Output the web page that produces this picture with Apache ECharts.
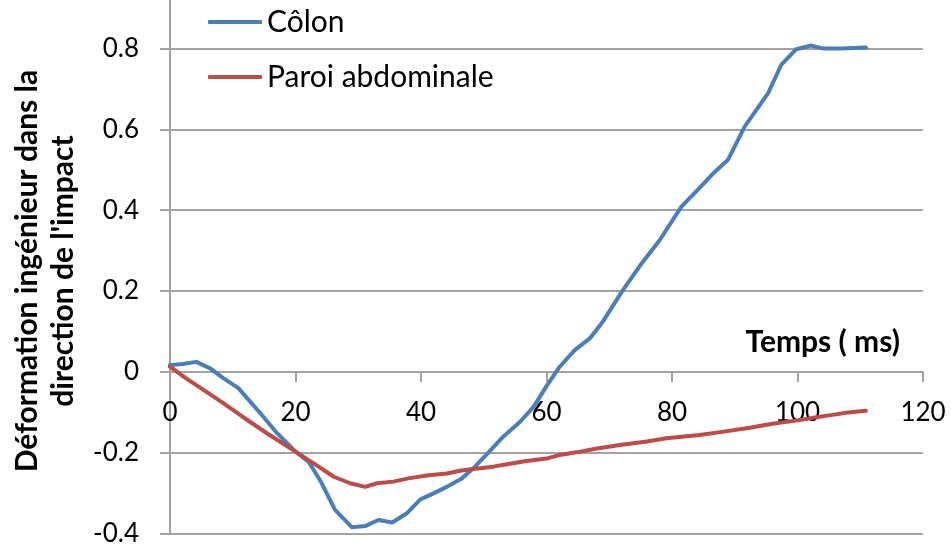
<!DOCTYPE html>
<html>
<head>
<meta charset="utf-8">
<script src="https://cdn.jsdelivr.net/npm/echarts@6/dist/echarts.min.js"></script>
<style>
  html, body { margin: 0; padding: 0; background: #fff; }
  #chart { width: 951px; height: 547px; }
</style>
</head>
<body>
<div id="chart"></div>
<script>
// Temps (ms) / déformation pour le côlon
const colonTime = [0, 2, 4.2, 6.4, 8.5, 10.9, 12.7, 14.4, 17, 20, 22.1, 24, 26.3, 29, 31.1, 33.2, 35.4, 37.7, 39.9, 42, 44.1, 46.5, 48.6, 51, 53.1, 55.8, 58, 60, 62.1, 64.5, 66.9, 69, 72.2, 75, 78, 81.5, 84.4, 86.5, 88.9, 91.6, 95.3, 97.4, 99.8, 102.2, 104, 107, 110.9];
const colonStrain = [0.017, 0.020, 0.025, 0.009, -0.015, -0.040, -0.072, -0.102, -0.150, -0.197, -0.222, -0.270, -0.341, -0.384, -0.381, -0.366, -0.372, -0.350, -0.315, -0.300, -0.284, -0.263, -0.234, -0.195, -0.160, -0.123, -0.085, -0.035, 0.013, 0.054, 0.083, 0.125, 0.203, 0.265, 0.325, 0.409, 0.455, 0.490, 0.524, 0.607, 0.689, 0.759, 0.798, 0.807, 0.800, 0.800, 0.802];

// Temps (ms) / déformation pour la paroi abdominale
const wallTime = [0, 2.5, 5.4, 8.6, 11.5, 15.5, 20, 22.9, 26.1, 28.7, 31.1, 33, 35.6, 38, 40.9, 44.1, 46.2, 48.3, 51.5, 53.7, 56.8, 60, 62.1, 65, 68, 72, 76, 79.1, 84.4, 88, 92.4, 96, 100.3, 103, 105.6, 108, 110.9];
const wallStrain = [0.013, -0.015, -0.045, -0.078, -0.110, -0.152, -0.197, -0.226, -0.259, -0.275, -0.284, -0.275, -0.271, -0.263, -0.256, -0.251, -0.244, -0.240, -0.234, -0.228, -0.220, -0.214, -0.205, -0.198, -0.189, -0.180, -0.172, -0.164, -0.156, -0.148, -0.138, -0.128, -0.119, -0.112, -0.106, -0.100, -0.096];

const seriesNames = ['Côlon', 'Paroi abdominale'];
const xTicks = [0, 20, 40, 60, 80, 100, 120];
const yTicks = [-0.4, -0.2, 0, 0.2, 0.4, 0.6, 0.8, 1.0];

const FONT = 'Lato, "Open Sans", sans-serif';
const GRID_GRAY = '#a3a3a3';

// plot area: 0 sits at y = 372 px, one 0.2 step is ~80.9 px
const PLOT = { left: 170, right: 28, top: -32.5, bottom: 13.2 };
const ZERO_FROM_BOTTOM = 547 - 372;

const pairs = (xs, ys) => xs.map((x, i) => [x, ys[i]]);

const xRange = {
  type: 'value',
  min: xTicks[0],
  max: xTicks[xTicks.length - 1],
  interval: xTicks[1] - xTicks[0]
};

const chart = echarts.init(document.getElementById('chart'), null, { renderer: 'canvas' });

chart.setOption({
  animation: false,
  backgroundColor: '#ffffff',
  grid: [
    Object.assign({ containLabel: false, outerBoundsMode: 'none' }, PLOT),
    // band whose bottom edge is the y = 0 line, carrying the time axis
    {
      left: PLOT.left, right: PLOT.right, top: 200, bottom: ZERO_FROM_BOTTOM,
      containLabel: false, outerBoundsMode: 'none'
    }
  ],
  legend: {
    orient: 'vertical',
    left: 208,
    top: 4,
    padding: 0,
    itemWidth: 54,
    itemHeight: 4,
    itemGap: 19,
    icon: 'roundRect',
    textStyle: { fontFamily: FONT, fontSize: 30, color: '#000', lineHeight: 36 },
    data: seriesNames
  },
  xAxis: [
    Object.assign({
      gridIndex: 0,
      axisLine: { show: false },
      axisTick: { show: false },
      axisLabel: { show: false },
      splitLine: { show: false }
    }, xRange),
    Object.assign({
      gridIndex: 1,
      position: 'bottom',
      axisLine: { show: true, onZero: false, lineStyle: { color: GRID_GRAY, width: 2 } },
      axisTick: { show: true, inside: false, length: 10, lineStyle: { color: GRID_GRAY, width: 2 } },
      axisLabel: { show: true, fontFamily: FONT, fontSize: 26, color: '#000', margin: 28, hideOverlap: false },
      splitLine: { show: false }
    }, xRange)
  ],
  yAxis: [
    {
      gridIndex: 0,
      type: 'value',
      min: yTicks[0],
      max: yTicks[yTicks.length - 1],
      interval: 0.2,
      axisLine: { show: true, onZero: false, lineStyle: { color: GRID_GRAY, width: 2 } },
      axisTick: { show: true, inside: false, length: 10, lineStyle: { color: GRID_GRAY, width: 2 } },
      axisLabel: {
        fontFamily: FONT, fontSize: 26, color: '#000', margin: 31,
        formatter: v => (Math.abs(v) < 1e-9 ? '0' : String(Math.round(v * 10) / 10))
      },
      splitLine: { show: true, lineStyle: { color: GRID_GRAY, width: 2 } }
    },
    {
      gridIndex: 1,
      type: 'value',
      min: 0,
      max: 1,
      show: false
    }
  ],
  graphic: [
    {
      type: 'text',
      x: 45,
      y: 271,
      rotation: Math.PI / 2,
      style: {
        text: 'Déformation ingénieur dans la\ndirection de l\'impact',
        font: 'bold 30px ' + FONT,
        fill: '#000',
        align: 'center',
        verticalAlign: 'middle',
        lineHeight: 36
      }
    },
    {
      type: 'text',
      x: 900,
      y: 342,
      style: {
        text: 'Temps ( ms)',
        font: 'bold 30px ' + FONT,
        fill: '#000',
        align: 'right',
        verticalAlign: 'middle'
      }
    }
  ],
  series: [
    {
      name: seriesNames[0],
      type: 'line',
      xAxisIndex: 0,
      yAxisIndex: 0,
      data: pairs(colonTime, colonStrain),
      showSymbol: false,
      smooth: false,
      z: 3,
      lineStyle: { color: '#4a7ebb', width: 4, cap: 'round', join: 'round' },
      itemStyle: { color: '#4a7ebb' }
    },
    {
      name: seriesNames[1],
      type: 'line',
      xAxisIndex: 0,
      yAxisIndex: 0,
      data: pairs(wallTime, wallStrain),
      showSymbol: false,
      smooth: false,
      z: 3,
      lineStyle: { color: '#be4b48', width: 4, cap: 'round', join: 'round' },
      itemStyle: { color: '#be4b48' }
    }
  ]
});
</script>
</body>
</html>
